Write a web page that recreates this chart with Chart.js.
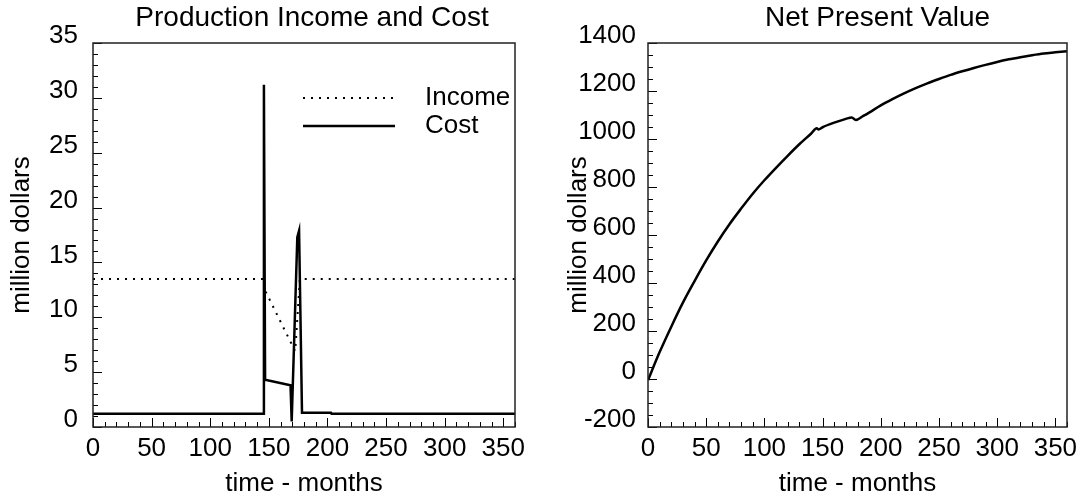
<!DOCTYPE html>
<html>
<head>
<meta charset="utf-8">
<title>Production Income and Cost / Net Present Value</title>
<script src="https://cdn.jsdelivr.net/npm/chart.js@4.4.1/dist/chart.umd.min.js"></script>
<style>
  body { margin: 0; background: #fff; }
  #wrap { position: relative; width: 1089px; height: 499px; }
  canvas { position: absolute; top: 0; }
</style>
</head>
<body>
<div id="wrap">
  <canvas id="left" width="545" height="499" style="left:0"></canvas>
  <canvas id="right" width="544" height="499" style="left:545px"></canvas>
</div>
<script>
// values (months, million dollars)
const incomeMonths = [0, 146, 147, 172.5, 176.5, 360];
const incomeValues = [13.5, 13.5, 12.4, 6.9, 13.5, 13.5];

const costMonths = [0, 145.3, 145.8, 146.8, 168.5, 169.5, 174.3, 175.8, 178.3, 203, 203.5, 360];
const costValues = [1.2, 1.2, 31.2, 4.3, 3.8, 0.5, 17.3, 17.9, 1.3, 1.3, 1.2, 1.2];

const npvMonths = [0, 10, 20, 30, 40, 50, 60, 70, 80, 90, 100, 110, 120, 130, 140, 145, 146.5, 150,
  160, 170, 175, 178.5, 185, 190, 200, 210, 220, 230, 240, 250, 260, 270, 280, 290, 300, 310,
  320, 330, 340, 350, 360];
const npvValues = [-5, 112, 218, 318, 408, 494, 573, 645, 710, 772, 828, 880, 930, 978, 1022, 1045, 1040, 1049,
  1068, 1084, 1090, 1079, 1096, 1110, 1140, 1166, 1190, 1212, 1232, 1250, 1267, 1282, 1296, 1309, 1321, 1332,
  1341, 1349, 1356, 1361, 1366];

const monthTicks = [0, 50, 100, 150, 200, 250, 300, 350];
const costTicks = [0, 5, 10, 15, 20, 25, 30, 35];
const npvTicks = [-200, 0, 200, 400, 600, 800, 1000, 1200, 1400];

const FONT = '"Liberation Sans", Arial, Helvetica, sans-serif';
Chart.defaults.font.family = FONT;
Chart.defaults.color = '#000';

function toPoints(xs, ys) {
  return xs.map((x, i) => ({ x: x, y: ys[i] }));
}

// inward tick marks (major + minor) and the plot frame
const frameTicks = {
  id: 'frameTicks',
  afterDatasetsDraw(chart, args, opts) {
    const { ctx, chartArea: a, scales: { x, y } } = chart;
    ctx.save();
    ctx.strokeStyle = '#000';
    ctx.lineWidth = 1;
    const nx = Math.round((x.max - x.min) / opts.xMinor);
    for (let i = 0; i <= nx; i++) {
      const v = x.min + i * opts.xMinor;
      const px = Math.round(x.getPixelForValue(v)) + 0.5;
      const len = Math.round(v) % opts.xMajor === 0 ? 9 : 5;
      ctx.beginPath();
      ctx.moveTo(px, a.bottom);
      ctx.lineTo(px, a.bottom - len);
      ctx.stroke();
    }
    const ny = Math.round((y.max - y.min) / opts.yMinor);
    for (let i = 0; i <= ny; i++) {
      const v = y.min + i * opts.yMinor;
      const py = Math.round(y.getPixelForValue(v)) + 0.5;
      const len = Math.round(v) % opts.yMajor === 0 ? 9 : 5;
      ctx.beginPath();
      ctx.moveTo(a.left, py);
      ctx.lineTo(a.left + len, py);
      ctx.stroke();
    }
    ctx.lineWidth = 1.5;
    ctx.strokeStyle = '#222';
    ctx.strokeRect(a.left, a.top, a.width, a.height);
    ctx.restore();
  }
};

// legend drawn inside the plot, line sample then label
const insideLegend = {
  id: 'insideLegend',
  afterDraw(chart, args, opts) {
    if (!opts.show) return;
    const { ctx, chartArea: a } = chart;
    ctx.save();
    ctx.font = '26px ' + FONT;
    ctx.fillStyle = '#000';
    ctx.strokeStyle = '#000';
    ctx.textBaseline = 'middle';
    chart.data.datasets.forEach((ds, i) => {
      const yy = a.top + opts.top + i * opts.rowGap;
      const x0 = a.left + opts.left;
      ctx.lineWidth = ds.borderWidth;
      ctx.setLineDash(ds.borderDash || []);
      ctx.beginPath();
      ctx.moveTo(x0, yy);
      ctx.lineTo(x0 + opts.sample, yy);
      ctx.stroke();
      ctx.setLineDash([]);
      ctx.fillText(ds.label, x0 + opts.sample + opts.gap, yy);
    });
    ctx.restore();
  }
};

// panel title above the plot
const panelTitle = {
  id: 'panelTitle',
  afterDraw(chart, args, opts) {
    const { ctx, chartArea: a } = chart;
    ctx.save();
    ctx.font = opts.size + 'px ' + FONT;
    ctx.fillStyle = '#000';
    ctx.textAlign = 'center';
    ctx.textBaseline = 'middle';
    ctx.fillText(opts.text, (a.left + a.right) / 2 + opts.dx, opts.y);
    ctx.restore();
  }
};

function makeOptions(cfg) {
  return {
    responsive: false,
    animation: false,
    layout: { padding: { top: 43, right: cfg.padRight, bottom: 0, left: 0 } },
    elements: { point: { radius: 0 }, line: { borderColor: '#000' } },
    plugins: {
      legend: { display: false },
      tooltip: { enabled: false },
      title: { display: false },
      panelTitle: { text: cfg.title, dx: cfg.titleDx, y: 18, size: 28 },
      insideLegend: cfg.legend || { show: false },
      frameTicks: cfg.frame
    },
    scales: {
      x: {
        type: 'linear',
        min: 0,
        max: 360,
        afterBuildTicks: s => { s.ticks = monthTicks.map(v => ({ value: v })); },
        afterFit: s => { s.height = 72; },
        grid: { display: false, drawTicks: false },
        border: { display: false },
        ticks: { autoSkip: false, maxRotation: 0, padding: 6, font: { size: 26 }, color: '#000', callback: v => String(v) },
        title: { display: true, text: 'time - months', font: { size: 26 }, color: '#000', padding: { top: 0, bottom: 0 } }
      },
      y: {
        type: 'linear',
        min: cfg.yMin,
        max: cfg.yMax,
        afterBuildTicks: s => { s.ticks = cfg.yTicks.map(v => ({ value: v })); },
        afterFit: s => { s.width = cfg.yWidth; },
        grid: { display: false, drawTicks: false },
        border: { display: false },
        ticks: { autoSkip: false, padding: cfg.tickPad, labelOffset: -7, font: { size: 26 }, color: '#000', callback: v => String(v) },
        title: { display: true, text: 'million dollars', font: { size: 26 }, color: '#000', padding: { top: cfg.yTitlePad, bottom: 0 } }
      }
    }
  };
}

new Chart(document.getElementById('left'), {
  type: 'line',
  data: {
    datasets: [
      {
        label: 'Income',
        data: toPoints(incomeMonths, incomeValues),
        borderColor: '#000',
        borderWidth: 2,
        borderDash: [2, 6],
        tension: 0
      },
      {
        label: 'Cost',
        data: toPoints(costMonths, costValues),
        borderColor: '#000',
        borderWidth: 2.5,
        tension: 0
      }
    ]
  },
  options: makeOptions({
    title: 'Production Income and Cost', titleDx: 8,
    padRight: 30, yWidth: 93, tickPad: 15, yTitlePad: 6,
    yMin: 0, yMax: 35, yTicks: costTicks,
    frame: { xMinor: 10, xMajor: 50, yMinor: 1, yMajor: 5 },
    legend: { show: true, left: 210, top: 55, rowGap: 28, sample: 92, gap: 30 }
  }),
  plugins: [frameTicks, insideLegend, panelTitle]
});

new Chart(document.getElementById('right'), {
  type: 'line',
  data: {
    datasets: [
      {
        label: 'Net Present Value',
        data: toPoints(npvMonths, npvValues),
        borderColor: '#000',
        borderWidth: 2.5,
        cubicInterpolationMode: 'monotone'
      }
    ]
  },
  options: makeOptions({
    title: 'Net Present Value', titleDx: 20,
    padRight: 22, yWidth: 103, tickPad: 12, yTitlePad: 18,
    yMin: -200, yMax: 1400, yTicks: npvTicks,
    frame: { xMinor: 10, xMajor: 50, yMinor: 50, yMajor: 200 }
  }),
  plugins: [frameTicks, insideLegend, panelTitle]
});
</script>
</body>
</html>
